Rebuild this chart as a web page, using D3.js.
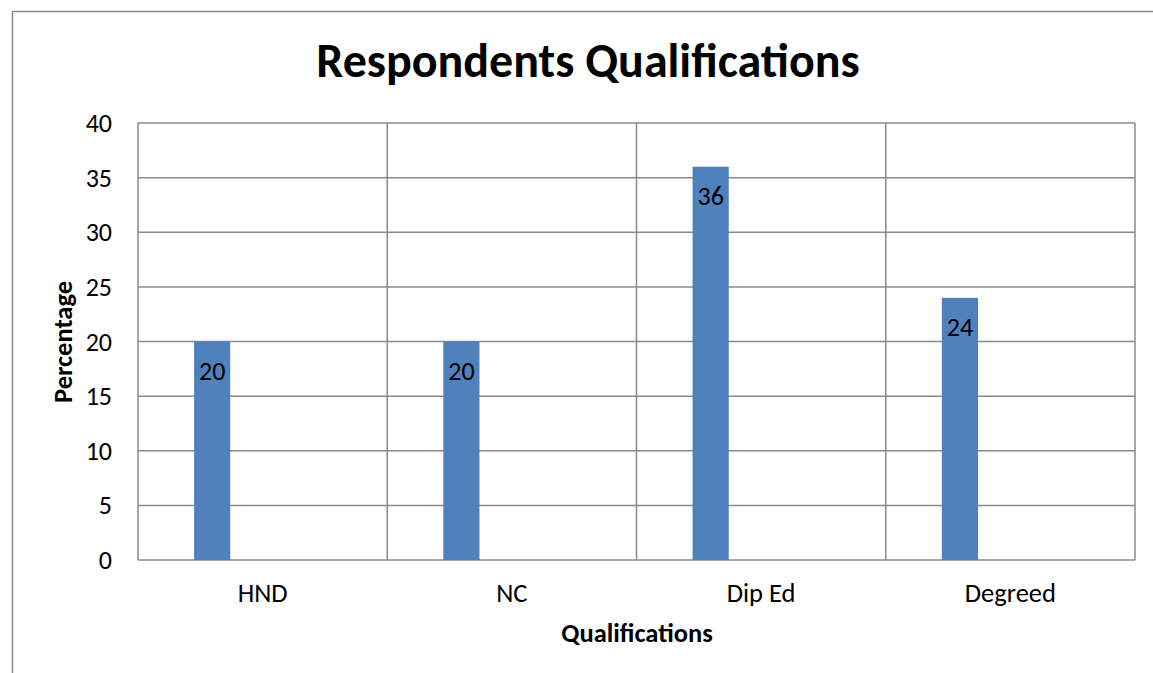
<!DOCTYPE html>
<html>
<head>
<meta charset="UTF-8" />
<title>Respondents Qualifications</title>
<script src="https://cdn.jsdelivr.net/npm/d3@7"></script>
<style>
  body { margin: 0; background: #fff; }
  svg text { font-family: Carlito, Lato, "Open Sans", sans-serif; fill: #000; }
</style>
</head>
<body>
<div id="chart"></div>
<script>
var w = 1153, h = 673;

var categories = ['HND', 'NC', 'Dip Ed', 'Degreed'];
var percentages = [20, 20, 36, 24];
var yTicks = [0, 5, 10, 15, 20, 25, 30, 35, 40];

var plot = {left: 138, top: 123, right: 1135, bottom: 560};
var barOffset = 0.225, barFrac = 0.145;
var gridColor = '#8a8a8a';

var svg = d3.select('#chart')
  .append('svg')
  .attr('width', w)
  .attr('height', h);

// outer frame (only left and top edges are visible in the picture)
svg.append('path')
  .attr('d', 'M12.5,' + h + 'V11.5H' + w)
  .attr('fill', 'none')
  .attr('stroke', gridColor)
  .attr('stroke-width', 1.5);

var x = d3.scaleBand()
  .domain(categories)
  .range([plot.left, plot.right])
  .padding(0);

var y = d3.scaleLinear()
  .domain([0, 40])
  .range([plot.bottom, plot.top]);

// horizontal grid
svg.append('g')
  .selectAll('line')
  .data(yTicks)
  .enter()
  .append('line')
  .attr('x1', plot.left)
  .attr('x2', plot.right)
  .attr('y1', function(d){ return y(d); })
  .attr('y2', function(d){ return y(d); })
  .attr('stroke', gridColor)
  .attr('stroke-width', 1.5);

// vertical grid at category boundaries
var bounds = categories.map(function(c){ return x(c); }).concat([x.range()[1]]);
svg.append('g')
  .selectAll('line')
  .data(bounds)
  .enter()
  .append('line')
  .attr('x1', function(d){ return d; })
  .attr('x2', function(d){ return d; })
  .attr('y1', plot.top)
  .attr('y2', plot.bottom)
  .attr('stroke', gridColor)
  .attr('stroke-width', 1.5);

// y tick labels
svg.append('g')
  .selectAll('text')
  .data(yTicks)
  .enter()
  .append('text')
  .attr('x', 112)
  .attr('y', function(d){ return y(d); })
  .attr('dy', '0.35em')
  .attr('text-anchor', 'end')
  .attr('font-size', '26px')
  .text(function(d){ return d; });

// category labels
svg.append('g')
  .selectAll('text')
  .data(categories)
  .enter()
  .append('text')
  .attr('x', function(d){ return x(d) + x.bandwidth()/2; })
  .attr('y', 602)
  .attr('text-anchor', 'middle')
  .attr('font-size', '26.5px')
  .text(function(d){ return d; });

// bars
svg.append('g')
  .selectAll('rect')
  .data(percentages)
  .enter()
  .append('rect')
  .attr('x', function(d, i){ return x(categories[i]) + x.bandwidth()*barOffset; })
  .attr('y', function(d){ return y(d); })
  .attr('width', x.bandwidth()*barFrac)
  .attr('height', function(d){ return y(0) - y(d); })
  .attr('fill', '#4f81bd');

// value labels inside bar tops
svg.append('g')
  .selectAll('text')
  .data(percentages)
  .enter()
  .append('text')
  .attr('x', function(d, i){ return x(categories[i]) + x.bandwidth()*(barOffset + barFrac/2); })
  .attr('y', function(d){ return y(d) + 38; })
  .attr('text-anchor', 'middle')
  .attr('font-size', '26px')
  .text(function(d){ return d; });

// titles
svg.append('text')
  .attr('x', 588)
  .attr('y', 77)
  .attr('text-anchor', 'middle')
  .attr('font-size', '48px')
  .attr('font-weight', 'bold')
  .text('Respondents Qualifications');

svg.append('text')
  .attr('x', 637)
  .attr('y', 642)
  .attr('text-anchor', 'middle')
  .attr('font-size', '26.5px')
  .attr('font-weight', 'bold')
  .text('Qualifications');

svg.append('text')
  .attr('transform', 'translate(72,342) rotate(-90)')
  .attr('text-anchor', 'middle')
  .attr('font-size', '26.5px')
  .attr('font-weight', 'bold')
  .text('Percentage');
</script>
</body>
</html>
